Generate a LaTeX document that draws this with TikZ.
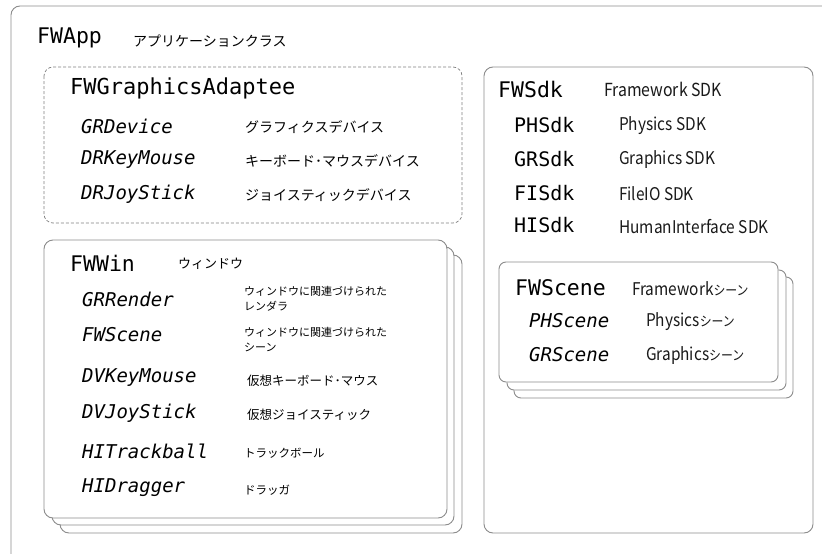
\documentclass[tikz,border=0pt]{standalone}
\usepackage{fontspec}
\setmonofont{DejaVu Sans Mono}
\newfontfamily\jp{Noto Sans CJK JP}
\newfontfamily\jpn[FakeStretch=0.88]{Noto Sans CJK JP}
\begin{document}
\begin{tikzpicture}[x=1pt,y=-1pt,
  frame/.style={draw=black!45, line width=0.9pt, rounded corners=9pt, fill=white},
  dframe/.style={draw=black!50, line width=0.7pt, dashed, dash pattern=on 3pt off 2pt, rounded corners=9pt},
  cls/.style={anchor=west, inner sep=0pt, text=black, font=\ttfamily\fontsize{21.5}{21.5}\selectfont},
  mem/.style={anchor=west, inner sep=0pt, text=black, font=\ttfamily\itshape\fontsize{19}{19}\selectfont},
  sdk/.style={anchor=west, inner sep=0pt, text=black, font=\ttfamily\fontsize{20}{20}\selectfont},
  desc/.style={anchor=west, inner sep=0pt, text=black, font=\jp\fontsize{14}{14}\selectfont},
  sdesc/.style={anchor=west, inner sep=0pt, text=black, font=\jp\fontsize{11}{15}\selectfont, align=left},
  ldesc/.style={anchor=west, inner sep=0pt, text=black!90, font=\jpn\fontsize{17.5}{17.5}\selectfont}
]
\useasboundingbox (0,0) rectangle (822,554);
\clip (0,0) rectangle (822,554);
% outer frame
\draw[frame] (11,6) rectangle (850,580);
\node[cls] (fwapp) at (37,38) {FWApp};
\node[desc] (fwappd) at (133,41) {アプリケーションクラス};

% FWGraphicsAdaptee
\draw[dframe] (44,67) rectangle (462,223);
\node[cls, font=\ttfamily\fontsize{22}{22}\selectfont] (fwga) at (70,88) {FWGraphicsAdaptee};
\node[mem] (grdev) at (81,126) {GRDevice};
\node[desc] (grdevd) at (245,127) {グラフィクスデバイス};
\node[mem] (drkm) at (81,160) {DRKeyMouse};
\node[desc] (drkmd) at (245,161) {キーボード･マウスデバイス};
\node[mem] (drjs) at (81,194) {DRJoyStick};
\node[desc] (drjsd) at (245,195) {ジョイスティックデバイス};

% FWWin stack
\draw[frame] (60,255) rectangle (462,533);
\draw[frame] (52,247) rectangle (454,525);
\draw[frame] (44,240) rectangle (447,518);
\node[cls] (fwwin) at (70,263) {FWWin};
\node[desc, font=\jp\fontsize{13}{13}\selectfont] (fwwind) at (178,264) {ウィンドウ};
\node[mem] (grr) at (82,299) {GRRender};
\node[sdesc] (grrd) at (244,299) {ウィンドウに関連づけられた\\レンダラ};
\node[mem] (fwsc) at (82,335) {FWScene};
\node[sdesc] (fwscd) at (244,340) {ウィンドウに関連づけられた\\シーン};
\node[mem] (dvkm) at (82,378) {DVKeyMouse};
\node[desc, font=\jp\fontsize{12.5}{12.5}\selectfont] (dvkmd) at (247,381) {仮想キーボード･マウス};
\node[mem] (dvjs) at (82,413) {DVJoyStick};
\node[desc, font=\jp\fontsize{12.5}{12.5}\selectfont] (dvjsd) at (247,415) {仮想ジョイスティック};
\node[mem] (hitb) at (82,451) {HITrackball};
\node[desc, font=\jp\fontsize{11.5}{11.5}\selectfont] (hitbd) at (244,453) {トラックボール};
\node[mem] (hidr) at (82,488) {HIDragger};
\node[desc, font=\jp\fontsize{11.5}{11.5}\selectfont] (hidrd) at (244,490) {ドラッガ};

% FWSdk
\draw[frame] (484,67) rectangle (813,533);
\node[cls] (fwsdk) at (498,89) {FWSdk};
\node[ldesc, font=\jpn\fontsize{18}{18}\selectfont] (fwsdkd) at (604,89) {Framework SDK};
\node[sdk] (phsdk) at (514,125) {PHSdk};
\node[ldesc] (phsdkd) at (619,126) {Physics SDK};
\node[sdk] (grsdk) at (514,159) {GRSdk};
\node[ldesc] (grsdkd) at (619,160) {Graphics SDK};
\node[sdk] (fisdk) at (514,193) {FISdk};
\node[ldesc] (fisdkd) at (619,194) {FileIO SDK};
\node[sdk] (hisdk) at (514,225) {HISdk};
\node[ldesc] (hisdkd) at (619,227) {HumanInterface SDK};

% FWScene stack
\draw[frame, rounded corners=7pt] (514,277) rectangle (793,398);
\draw[frame, rounded corners=7pt] (507,270) rectangle (786,390);
\draw[frame, rounded corners=7pt] (499,262) rectangle (778,382);
\node[cls] (fwscene) at (515,288) {FWScene};
\node[ldesc] (fwscened) at (632,289) {Framework{\fontsize{13.5}{13.5}\selectfont シーン}};
\node[mem] (phsc) at (529,321) {PHScene};
\node[ldesc] (phscd) at (646,322) {Physics{\fontsize{13.5}{13.5}\selectfont シーン}};
\node[mem] (grsc) at (529,355) {GRScene};
\node[ldesc] (grscd) at (646,356) {Graphics{\fontsize{13.5}{13.5}\selectfont シーン}};
\end{tikzpicture}
\end{document}
